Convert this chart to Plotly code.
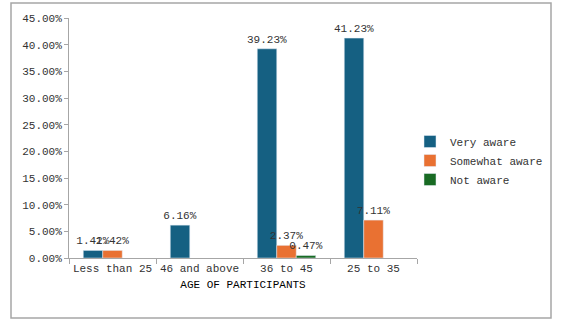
import plotly.graph_objects as go

categories = ["Less than 25", "46 and above", "36 to 45", "25 to 35"]
very_aware = [1.42, 6.16, 39.23, 41.23]
somewhat_aware = [1.42, None, 2.37, 7.11]
not_aware = [None, None, 0.47, None]
series_names = ["Very aware", "Somewhat aware", "Not aware"]
colors = ["#156082", "#E97132", "#196B24"]
y_ticks = [0, 5, 10, 15, 20, 25, 30, 35, 40, 45]

FONT = "Liberation Mono"
TXT = "#333333"

fig = go.Figure()
for name, vals, col in zip(series_names, [very_aware, somewhat_aware, not_aware], colors):
    fig.add_trace(go.Bar(
        x=categories, y=vals, name=name, marker_color=col,
        text=[None if v is None else f"{v:.2f}%" for v in vals],
        textposition="outside", constraintext="none", cliponaxis=False,
        textfont=dict(family=FONT, size=11, color=TXT),
    ))

L, R, T, B = 69, 417, 18, 258
W, H = 561, 329
pw, ph = R - L, B - T

def px_x(p):
    return (p - L) / pw

def px_y(p):
    return (B - p) / ph

fig.update_layout(
    width=W, height=H,
    margin=dict(l=L, r=W - R, t=T, b=H - B, pad=0, autoexpand=False),
    paper_bgcolor="white", plot_bgcolor="white",
    barmode="group", bargap=0.328, bargroupgap=0,
    font=dict(family=FONT, size=11, color=TXT),
    showlegend=True,
    legend=dict(x=px_x(410), y=px_y(127), xanchor="left", yanchor="top",
                font=dict(family=FONT, size=11, color=TXT),
                bgcolor="rgba(0,0,0,0)", tracegroupgap=0),
    xaxis=dict(
        showline=True, linecolor="#A6A6A6", linewidth=1,
        ticks="outside", tickson="boundaries", ticklen=5, tickcolor="#A6A6A6",
        showgrid=False, zeroline=False, tickangle=0, automargin=False,
        title=dict(text="AGE OF PARTICIPANTS", standoff=6,
                   font=dict(family=FONT, size=11, color="#000000")),
        tickfont=dict(family=FONT, size=11, color=TXT),
    ),
    yaxis=dict(
        range=[0, 45], tickvals=y_ticks, automargin=False,
        ticktext=[f"{v:.2f}%" for v in y_ticks],
        showline=True, linecolor="#A6A6A6", linewidth=1,
        ticks="outside", ticklen=4, tickcolor="#A6A6A6",
        showgrid=False, zeroline=False,
        tickfont=dict(family=FONT, size=11, color=TXT),
    ),
    shapes=[dict(type="rect", xref="paper", yref="paper",
                 x0=px_x(11), x1=px_x(551), y0=px_y(318), y1=px_y(3),
                 line=dict(color="#A6A6A6", width=1.5), fillcolor="rgba(0,0,0,0)",
                 layer="below")],
)

fig.write_html("out.html")
